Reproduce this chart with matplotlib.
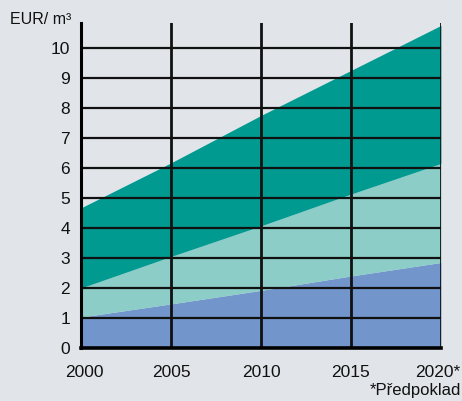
import matplotlib
matplotlib.use("Agg")
import matplotlib.pyplot as plt
import matplotlib.transforms as mtransforms
from matplotlib import font_manager

years = [2000, 2005, 2010, 2015, 2020]
x_labels = ["2000", "2005", "2010", "2015", "2020*"]
bottom_series = [1.03, 1.47, 1.92, 2.40, 2.85]
middle_series = [2.00, 3.05, 4.07, 5.13, 6.15]
top_series = [4.67, 6.17, 7.75, 9.25, 10.75]
y_ticks = list(range(0, 11))

names = {f.name for f in font_manager.fontManager.ttflist}
fam = "Liberation Sans Narrow" if "Liberation Sans Narrow" in names else "Liberation Sans"
plt.rcParams['font.family'] = [fam, 'DejaVu Sans']

bg = "#e1e5e9"
fig = plt.figure(figsize=(4.62, 4.01), dpi=100, facecolor=bg)
ax = fig.add_axes([81/462, 53/401, 360/462, 325/401])
ax.set_facecolor(bg)

ax.fill_between(years, 0, bottom_series, color="#7296cc", linewidth=0, zorder=1)
ax.fill_between(years, bottom_series, middle_series, color="#8ccdc8", linewidth=0, zorder=1)
ax.fill_between(years, middle_series, top_series, color="#009a90", linewidth=0, zorder=1)

ax.set_xlim(2000, 2020)
ax.set_ylim(0, 10.83)

for y in y_ticks[1:]:
    ax.axhline(y, color="#111111", linewidth=1.6, zorder=2)
for x in years[1:]:
    ax.axvline(x, color="#111111", linewidth=2.0, zorder=2)

for s in ["top", "right"]:
    ax.spines[s].set_visible(False)
ax.spines["left"].set_linewidth(2.2)
ax.spines["bottom"].set_linewidth(2.6)
ax.spines["left"].set_zorder(3)
ax.spines["bottom"].set_zorder(3)

ax.set_yticks(y_ticks)
ax.set_yticklabels([str(v) for v in y_ticks])
ax.set_xticks(years)
ax.set_xticklabels(x_labels)
ax.tick_params(axis="y", length=0, pad=8, labelsize=12.5, labelcolor="#111111")
ax.tick_params(axis="x", length=0, pad=12, labelsize=12.5, labelcolor="#111111")

last = ax.get_xticklabels()[-1]
last.set_transform(last.get_transform() + mtransforms.ScaledTranslation(-3/100, 0, fig.dpi_scale_trans))
first = ax.get_xticklabels()[0]
first.set_transform(first.get_transform() + mtransforms.ScaledTranslation(3/100, 0, fig.dpi_scale_trans))

fig.text(10/462, 1 - 19/401, "EUR/ m³", fontsize=11.5, ha="left", va="center", color="#111111")
fig.text(461/462, 1 - 391/401, "*Předpoklad", fontsize=12, ha="right", va="center", color="#111111")

fig.savefig("out.png", dpi=100, facecolor=bg)
